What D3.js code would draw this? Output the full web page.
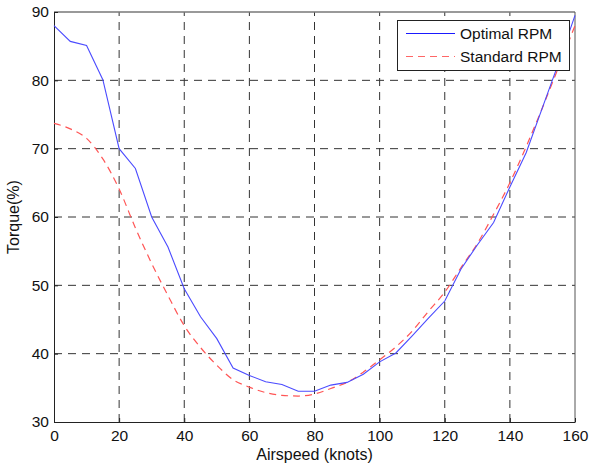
<!DOCTYPE html>
<html lang="en">
<head>
  <meta charset="UTF-8" />
  <title>Torque vs Airspeed</title>
  <script src="https://d3js.org/d3.v7.min.js"></script>
  <style>
    body { margin: 0; background: #fff; }
    svg { display: block; font-family: "Liberation Sans", Arial, sans-serif; }
    .grid line { stroke: #333; stroke-width: 1; stroke-dasharray: 8,6; }
    .tick text { font-size: 15.5px; fill: #111; }
  </style>
</head>
<body>
<svg id="chart" width="589" height="465"></svg>
<script>
const airspeed = [0, 5, 10, 15, 20, 25, 30, 35, 40, 45, 50, 55, 60, 65, 70, 75, 80,
  85, 90, 95, 100, 105, 110, 115, 120, 125, 130, 135, 140, 145, 150, 155, 160];
const optimalRpm = [88, 85.7, 85.1, 80.1, 70, 67.1, 60, 55.6, 49.5, 45.4, 42.2, 37.9, 36.8,
  35.9, 35.5, 34.5, 34.5, 35.4, 35.8, 37, 38.8, 40.1, 42.6, 45.2, 47.7, 52.4, 55.9,
  59.2, 64.4, 69.4, 76, 82.6, 89.5];
const standardRpm = [73.7, 72.9, 71.5, 68.5, 64.1, 58.4, 53.2, 48.5, 44.1, 40.9, 38.3, 36.2, 35.1,
  34.3, 33.9, 33.8, 34.1, 34.9, 35.8, 37.3, 39.1, 41, 43.3, 46.2, 49, 52.6, 56.1,
  60.4, 65, 70.3, 76, 82, 88];
const xTicks = [0, 20, 40, 60, 80, 100, 120, 140, 160];
const yTicks = [30, 40, 50, 60, 70, 80, 90];

const svg = d3.select("#chart");
const margin = {top: 12, right: 14, bottom: 43, left: 54};
const width = +svg.attr("width"), height = +svg.attr("height");

const x = d3.scaleLinear().domain([0, 160]).range([margin.left, width - margin.right]);
const y = d3.scaleLinear().domain([30, 90]).range([height - margin.bottom, margin.top]);

// grid
svg.append("g").attr("class", "grid")
  .selectAll("line").data(xTicks.slice(1, -1)).join("line")
  .attr("x1", d => x(d)).attr("x2", d => x(d))
  .attr("y1", y(30)).attr("y2", y(90));
svg.append("g").attr("class", "grid")
  .selectAll("line").data(yTicks.slice(1, -1)).join("line")
  .attr("x1", x(0)).attr("x2", x(160))
  .attr("y1", d => y(d)).attr("y2", d => y(d));

// box (top/right)
svg.append("line").attr("x1", x(0)).attr("x2", x(160)).attr("y1", y(90)).attr("y2", y(90))
  .attr("stroke", "#777").attr("stroke-width", 1.5);
svg.append("line").attr("x1", x(160)).attr("x2", x(160)).attr("y1", y(90)).attr("y2", y(30))
  .attr("stroke", "#555");

// axes
const xAxis = svg.append("g")
  .attr("transform", `translate(0,${y(30)})`)
  .call(d3.axisBottom(x).tickValues(xTicks).tickSize(-4).tickPadding(8).tickSizeOuter(0));
const yAxis = svg.append("g")
  .attr("transform", `translate(${x(0)},0)`)
  .call(d3.axisLeft(y).tickValues(yTicks).tickSize(-4).tickPadding(5).tickSizeOuter(0));
[xAxis, yAxis].forEach(g => {
  g.select(".domain").attr("stroke", "#222");
  g.selectAll(".tick line").attr("stroke", "#222");
});

// lines
const line = vals => d3.line()
  .x((d, i) => x(airspeed[i]))
  .y(d => y(d))(vals);

svg.append("path")
  .attr("d", d3.line().x((d, i) => x(airspeed[i])).y(d => y(d)).curve(d3.curveMonotoneX)(standardRpm))
  .attr("fill", "none").attr("stroke", "#ff5555").attr("stroke-width", 1.2)
  .attr("stroke-dasharray", "7,5");
svg.append("path")
  .attr("d", line(optimalRpm))
  .attr("fill", "none").attr("stroke", "#4b4bff").attr("stroke-width", 1.1);

// axis labels
svg.append("text")
  .attr("x", x(80)).attr("y", 460)
  .attr("text-anchor", "middle").attr("font-size", 16).attr("fill", "#111")
  .text("Airspeed (knots)");
svg.append("text")
  .attr("transform", `translate(19,${y(60)}) rotate(-90)`)
  .attr("text-anchor", "middle").attr("font-size", 16).attr("fill", "#111")
  .text("Torque(%)");

// legend
const legend = svg.append("g");
legend.append("rect")
  .attr("x", 397.5).attr("y", 20.5).attr("width", 172).attr("height", 50)
  .attr("fill", "#fff").attr("stroke", "#222");
const items = [
  {name: "Optimal RPM", color: "#1a1aff", dash: null},
  {name: "Standard RPM", color: "#ff6666", dash: "7,5"}
];
items.forEach((it, i) => {
  const yy = 33.5 + i * 23;
  legend.append("line")
    .attr("x1", 406).attr("x2", 455).attr("y1", yy).attr("y2", yy)
    .attr("stroke", it.color).attr("stroke-width", 1)
    .attr("stroke-dasharray", it.dash);
  legend.append("text")
    .attr("x", 460).attr("y", yy + 5.5)
    .attr("font-size", 15.5).attr("fill", "#111")
    .text(it.name);
});
</script>
</body>
</html>
